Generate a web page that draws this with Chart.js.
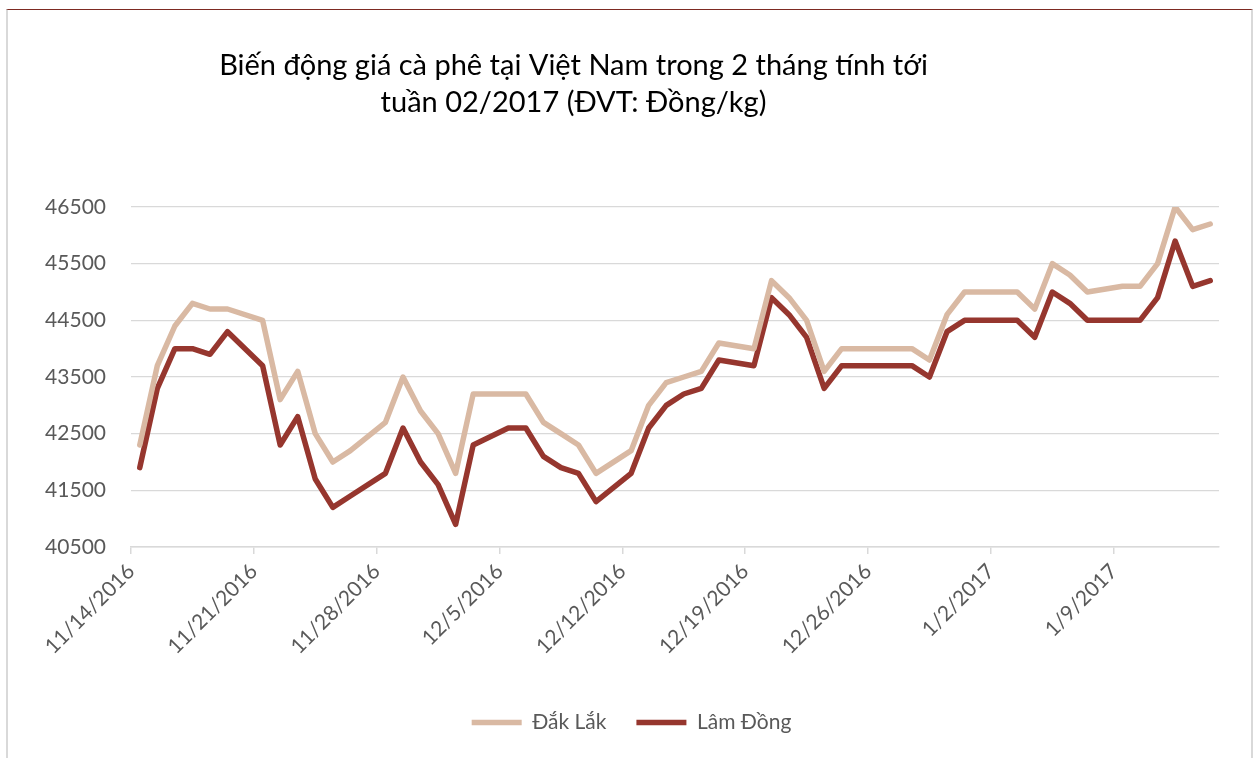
<!DOCTYPE html>
<html>
<head>
<meta charset="utf-8">
<title>Biến động giá cà phê tại Việt Nam</title>
<script src="https://cdn.jsdelivr.net/npm/chart.js@4.4.1/dist/chart.umd.min.js"></script>
<style>
  html, body { margin: 0; padding: 0; background: #fff; overflow: hidden; }
  #wrap { position: relative; width: 1254px; height: 758px; }
  #frame {
    position: absolute; left: 6px; top: 9px; right: 1px; bottom: 0;
    border-top: 1px solid #7d2a22;
    border-left: 2px solid #d9d9d9;
    border-right: 2px solid #d9d9d9;
    pointer-events: none;
  }
</style>
</head>
<body>
<div id="wrap">
  <canvas id="priceChart" width="1254" height="758"></canvas>
  <div id="frame"></div>
</div>
<script>
// Trading days (Mon-Sat)
const dates = [
  '11/14/2016', '11/15/2016', '11/16/2016', '11/17/2016', '11/18/2016', '11/19/2016',
  '11/21/2016', '11/22/2016', '11/23/2016', '11/24/2016', '11/25/2016', '11/26/2016',
  '11/28/2016', '11/29/2016', '11/30/2016', '12/1/2016', '12/2/2016', '12/3/2016',
  '12/5/2016', '12/6/2016', '12/7/2016', '12/8/2016', '12/9/2016', '12/10/2016',
  '12/12/2016', '12/13/2016', '12/14/2016', '12/15/2016', '12/16/2016', '12/17/2016',
  '12/19/2016', '12/20/2016', '12/21/2016', '12/22/2016', '12/23/2016', '12/24/2016',
  '12/26/2016', '12/27/2016', '12/28/2016', '12/29/2016', '12/30/2016', '12/31/2016',
  '1/2/2017', '1/3/2017', '1/4/2017', '1/5/2017', '1/6/2017', '1/7/2017',
  '1/9/2017', '1/10/2017', '1/11/2017', '1/12/2017', '1/13/2017', '1/14/2017'
];

const dakLak = [
  42300, 43700, 44400, 44800, 44700, 44700,
  44500, 43100, 43600, 42500, 42000, 42200,
  42700, 43500, 42900, 42500, 41800, 43200,
  43200, 43200, 42700, 42500, 42300, 41800,
  42200, 43000, 43400, 43500, 43600, 44100,
  44000, 45200, 44900, 44500, 43600, 44000,
  44000, 44000, 44000, 43800, 44600, 45000,
  45000, 45000, 44700, 45500, 45300, 45000,
  45100, 45100, 45500, 46500, 46100, 46200
];

const lamDong = [
  41900, 43300, 44000, 44000, 43900, 44300,
  43700, 42300, 42800, 41700, 41200, 41400,
  41800, 42600, 42000, 41600, 40900, 42300,
  42600, 42600, 42100, 41900, 41800, 41300,
  41800, 42600, 43000, 43200, 43300, 43800,
  43700, 44900, 44600, 44200, 43300, 43700,
  43700, 43700, 43700, 43500, 44300, 44500,
  44500, 44500, 44200, 45000, 44800, 44500,
  44500, 44500, 44900, 45900, 45100, 45200
];

const tickLabels = [
  '11/14/2016', '11/21/2016', '11/28/2016', '12/5/2016', '12/12/2016',
  '12/19/2016', '12/26/2016', '1/2/2017', '1/9/2017'
];
const axisStart = '11/14/2016';
const axisEnd = '1/15/2017';

const titleLines = [
  'Biến động giá cà phê tại Việt Nam trong 2 tháng tính tới',
  'tuần 02/2017 (ĐVT: Đồng/kg)'
];

const textGray = '#595959';
const gridGray = '#d9d9d9';
const baseFont = 'Lato, "Open Sans", sans-serif';

// days from axisStart
function dayIndex(str) {
  const [m, d, y] = str.split('/').map(Number);
  const [m0, d0, y0] = axisStart.split('/').map(Number);
  return Math.round((Date.UTC(y, m - 1, d) - Date.UTC(y0, m0 - 1, d0)) / 86400000);
}

// each day sits in the middle of its slot, like Excel's date axis
function toPoints(values) {
  return dates.map((dt, i) => ({ x: dayIndex(dt) + 0.5, y: values[i] }));
}

// title and legend are not centred on the canvas in the original
const shiftBlocks = {
  id: 'shiftBlocks',
  afterLayout(chart) {
    chart.titleBlock.left -= 36;
    chart.titleBlock.right -= 36;
    chart.legend.left += 22;
    chart.legend.right += 22;
  }
};

const ctx = document.getElementById('priceChart').getContext('2d');

new Chart(ctx, {
  type: 'line',
  data: {
    datasets: [
      {
        label: 'Đắk Lắk',
        data: toPoints(dakLak),
        borderColor: '#d9b9a3',
        backgroundColor: '#d9b9a3',
        borderWidth: 5.5,
        borderCapStyle: 'round',
        borderJoinStyle: 'round',
        pointRadius: 0,
        tension: 0
      },
      {
        label: 'Lâm Đồng',
        data: toPoints(lamDong),
        borderColor: '#96362e',
        backgroundColor: '#96362e',
        borderWidth: 5.5,
        borderCapStyle: 'round',
        borderJoinStyle: 'round',
        pointRadius: 0,
        tension: 0
      }
    ]
  },
  options: {
    responsive: false,
    animation: false,
    layout: {
      padding: { left: 0, right: 35, top: 0, bottom: 15 }
    },
    plugins: {
      title: {
        display: true,
        text: titleLines,
        color: '#000',
        font: { family: baseFont, size: 29, weight: 'normal', lineHeight: 1.276 },
        padding: { top: 47, bottom: 86 }
      },
      legend: {
        position: 'bottom',
        labels: {
          usePointStyle: true,
          pointStyle: 'line',
          pointStyleWidth: 50,
          padding: 30,
          color: textGray,
          font: { family: baseFont, size: 21 }
        }
      },
      tooltip: { enabled: false }
    },
    scales: {
      x: {
        type: 'linear',
        min: 0,
        max: dayIndex(axisEnd),
        afterBuildTicks: (scale) => {
          scale.ticks = tickLabels.map(l => ({ value: dayIndex(l) }));
        },
        afterFit: (scale) => { scale.height = 135; },
        grid: { drawOnChartArea: false, drawTicks: true, tickLength: 7, color: gridGray, lineWidth: 1.5 },
        border: { display: true, color: gridGray, width: 1.5 },
        ticks: {
          autoSkip: false,
          minRotation: 45,
          maxRotation: 45,
          padding: 5,
          color: textGray,
          font: { family: baseFont, size: 21 },
          callback: (value) => tickLabels.find(l => dayIndex(l) === value) || ''
        }
      },
      y: {
        min: 40500,
        max: 46500,
        afterFit: (scale) => { scale.width = 131; },
        ticks: {
          stepSize: 1000,
          padding: 25,
          color: textGray,
          font: { family: baseFont, size: 21 },
          callback: (value) => String(value)
        },
        grid: { color: gridGray, lineWidth: 1.3, drawTicks: false },
        border: { display: false }
      }
    }
  },
  plugins: [shiftBlocks]
});
</script>
</body>
</html>
